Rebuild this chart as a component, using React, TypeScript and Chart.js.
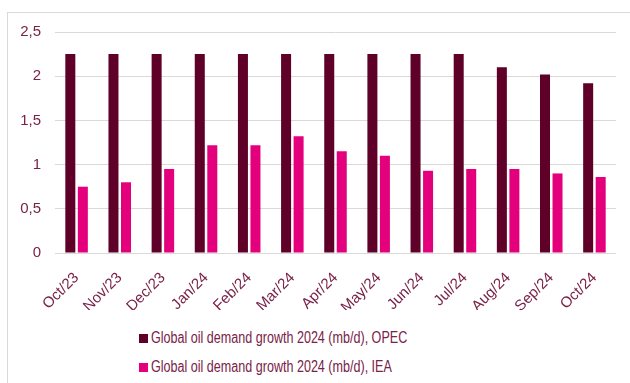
import React, { useEffect, useRef } from "react";
import { Chart, registerables } from "chart.js";

Chart.register(...registerables);

const categories = ["Oct/23", "Nov/23", "Dec/23", "Jan/24", "Feb/24", "Mar/24", "Apr/24", "May/24", "Jun/24", "Jul/24", "Aug/24", "Sep/24", "Oct/24"];
const opecValues = [2.25, 2.25, 2.25, 2.25, 2.25, 2.25, 2.25, 2.25, 2.25, 2.25, 2.1, 2.02, 1.92];
const ieaValues = [0.75, 0.8, 0.95, 1.22, 1.22, 1.32, 1.15, 1.1, 0.93, 0.95, 0.95, 0.9, 0.86];
const seriesNames = ["Global oil demand growth 2024 (mb/d), OPEC", "Global oil demand growth 2024 (mb/d), IEA"];

const OPEC_COLOR = "#5E0027";
const IEA_COLOR = "#E4007C";
const TEXT_COLOR = "#7A2248";
const FONT = "'Liberation Sans', Arial, sans-serif";

export default function App() {
  const canvasRef = useRef<HTMLCanvasElement | null>(null);

  useEffect(() => {
    if (!canvasRef.current) return;
    const chart = new Chart(canvasRef.current, {
      type: "bar",
      data: {
        labels: categories,
        datasets: [
          { label: seriesNames[0], data: opecValues, backgroundColor: OPEC_COLOR, categoryPercentage: 0.58, barPercentage: 0.8 },
          { label: seriesNames[1], data: ieaValues, backgroundColor: IEA_COLOR, categoryPercentage: 0.58, barPercentage: 0.8 },
        ],
      },
      options: {
        animation: false,
        responsive: false,
        layout: { padding: { top: 32, right: 14, left: 0, bottom: 0 } },
        plugins: { legend: { display: false }, tooltip: { enabled: false } },
        scales: {
          x: {
            grid: { display: false },
            border: { display: false },
            ticks: {
              color: TEXT_COLOR,
              font: { family: FONT, size: 15 },
              maxRotation: 45,
              minRotation: 45,
              autoSkip: false,
              padding: 8,
            },
            afterFit: (s: any) => { s.height = 57; },
          },
          y: {
            min: 0,
            max: 2.5,
            border: { display: false },
            grid: { color: "#D9D9D9", drawTicks: false, lineWidth: 1 },
            ticks: {
              stepSize: 0.5,
              color: TEXT_COLOR,
              font: { family: FONT, size: 15 },
              padding: 14,
              callback: (v: any) => String(v).replace(".", ","),
            },
            afterFit: (s: any) => { s.width = 55; },
          },
        },
      },
    });
    return () => chart.destroy();
  }, []);

  const legendRow = (color: string, text: string, top: number) => (
    <div style={{ position: "absolute", left: 139, top, height: 20, display: "flex", alignItems: "center", whiteSpace: "nowrap" }}>
      <span style={{ display: "inline-block", width: 9, height: 9, background: color, marginRight: 3 }} />
      <span style={{ display: "inline-block", fontFamily: FONT, fontSize: 16, color: TEXT_COLOR, lineHeight: "20px", transform: "scaleX(0.785)", transformOrigin: "left center" }}>{text}</span>
    </div>
  );

  return (
    <div style={{ position: "absolute", left: 0, top: 0, width: 630, height: 383, overflow: "hidden", background: "#fff" }}>
      <div style={{ position: "absolute", left: 7, top: 12, width: 623, height: 371, borderLeft: "1px solid #D9D9D9", borderTop: "1px solid #D9D9D9", boxSizing: "border-box" }} />
      <canvas ref={canvasRef} width={630} height={310} style={{ position: "absolute", left: 0, top: 0 }} />
      {legendRow(OPEC_COLOR, seriesNames[0], 328)}
      {legendRow(IEA_COLOR, seriesNames[1], 357)}
    </div>
  );
}
